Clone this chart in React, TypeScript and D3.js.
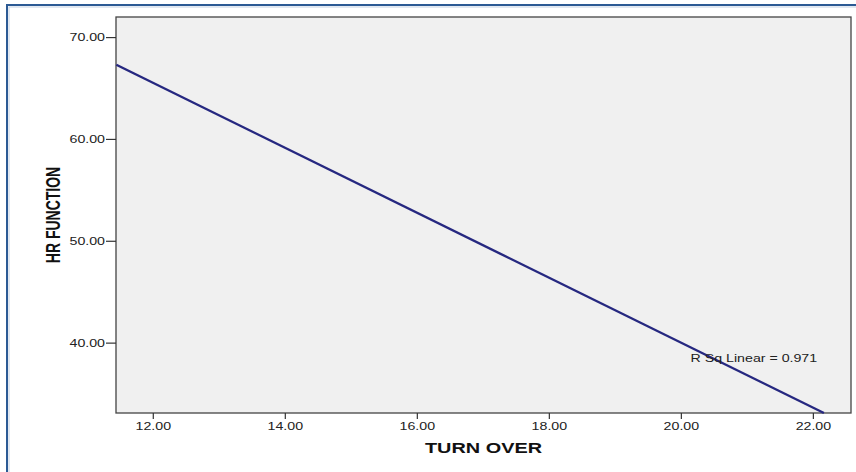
import React, { useEffect, useRef } from 'react';
import * as d3 from 'd3';

// fit line end points (turn over -> hr function)
const lineX = [11.44, 22.16];
const lineY = [67.33, 33.14];

const xTicks = [12, 14, 16, 18, 20, 22];
const yTicks = [40, 50, 60, 70];

const xDomain: [number, number] = [11.435, 22.57];
const yDomain: [number, number] = [33.14, 72.02];

const xLabel = 'TURN OVER';
const yLabel = 'HR FUNCTION';
const fitLabel = 'R Sq Linear = 0.971';

const W = 856;
const H = 472;
const STRETCH = 1.42;
const FONT = 'Arial, "Liberation Sans", sans-serif';

const App: React.FC = () => {
  const svgRef = useRef<SVGSVGElement>(null);

  useEffect(() => {
    if (!svgRef.current) return;
    const svg = d3.select(svgRef.current);
    svg.selectAll('*').remove();

    const plot = { left: 116, top: 17, right: 851, bottom: 413 };

    const xScale = d3.scaleLinear().domain(xDomain).range([plot.left, plot.right]);
    const yScale = d3.scaleLinear().domain(yDomain).range([plot.bottom, plot.top]);

    svg.append('rect').attr('width', W).attr('height', H).attr('fill', '#fff');

    // outer frame
    svg.append('rect')
      .attr('x', 7).attr('y', 5)
      .attr('width', W + 20).attr('height', H + 20)
      .attr('fill', 'none')
      .attr('stroke', '#2c5a94')
      .attr('stroke-width', 2);
    svg.append('rect')
      .attr('x', 9).attr('y', 7)
      .attr('width', W + 20).attr('height', H + 20)
      .attr('fill', 'none')
      .attr('stroke', '#c4d2e4')
      .attr('stroke-width', 1);

    // plot area
    svg.append('rect')
      .attr('x', plot.left).attr('y', plot.top)
      .attr('width', plot.right - plot.left)
      .attr('height', plot.bottom - plot.top)
      .attr('fill', '#f0f0f0')
      .attr('stroke', '#444')
      .attr('stroke-width', 1.3);

    // fit line
    const pts = lineX.map((x, i) => [x, lineY[i]] as [number, number]);
    const line = d3.line<[number, number]>()
      .x(d => xScale(d[0]))
      .y(d => yScale(d[1]));
    svg.append('path')
      .datum(pts)
      .attr('d', line)
      .attr('fill', 'none')
      .attr('stroke', '#262880')
      .attr('stroke-width', 2.4);

    // y axis ticks
    const yg = svg.append('g');
    yTicks.forEach(t => {
      const y = yScale(t);
      yg.append('line')
        .attr('x1', plot.left - 10).attr('x2', plot.left)
        .attr('y1', y).attr('y2', y)
        .attr('stroke', '#333').attr('stroke-width', 1.2);
      yg.append('text')
        .attr('transform', `translate(${plot.left - 11},${y + 3.6}) scale(${STRETCH},1)`)
        .attr('text-anchor', 'end')
        .style('font-family', FONT)
        .style('font-size', '10px')
        .attr('fill', '#222')
        .text(t.toFixed(2));
    });

    // x axis ticks
    const xg = svg.append('g');
    xTicks.forEach(t => {
      const x = xScale(t);
      xg.append('line')
        .attr('x1', x).attr('x2', x)
        .attr('y1', plot.bottom).attr('y2', plot.bottom + 6)
        .attr('stroke', '#333').attr('stroke-width', 1.2);
      xg.append('text')
        .attr('transform', `translate(${x},${plot.bottom + 17}) scale(${STRETCH},1)`)
        .attr('text-anchor', 'middle')
        .style('font-family', FONT)
        .style('font-size', '10px')
        .attr('fill', '#222')
        .text(t.toFixed(2));
    });

    // axis titles
    svg.append('text')
      .attr('transform', `translate(${(plot.left + plot.right) / 2 - 0},${453}) scale(${STRETCH},1)`)
      .attr('text-anchor', 'middle')
      .style('font-family', FONT)
      .style('font-size', '14px')
      .style('font-weight', 'bold')
      .attr('fill', '#111')
      .text(xLabel);

    svg.append('text')
      .attr('transform', `translate(60,215) scale(${STRETCH},1) rotate(-90)`)
      .attr('text-anchor', 'middle')
      .style('font-family', FONT)
      .style('font-size', '14px')
      .style('font-weight', 'bold')
      .attr('fill', '#111')
      .text(yLabel);

    // fit annotation
    svg.append('text')
      .attr('transform', `translate(${xScale(20.14)},${yScale(38.1)}) scale(${STRETCH},1)`)
      .attr('text-anchor', 'start')
      .style('font-family', FONT)
      .style('font-size', '10px')
      .attr('fill', '#222')
      .text(fitLabel);
  }, []);

  return (
    <svg
      ref={svgRef}
      width={W}
      height={H}
      style={{ position: 'absolute', left: 0, top: 0, display: 'block' }}
    />
  );
};

export default App;
